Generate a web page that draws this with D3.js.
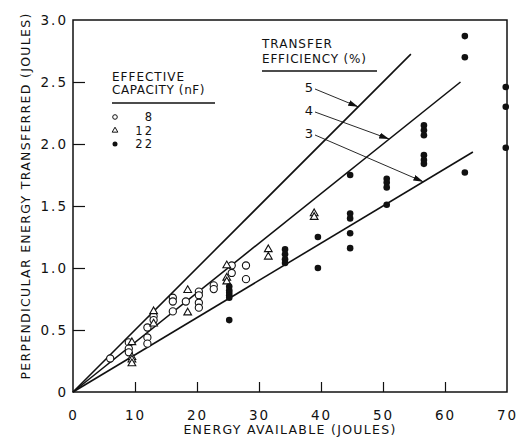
<!DOCTYPE html>
<html lang="en-US">
<head>
<meta charset="utf-8">
<style>
  body { margin: 0; background: #fff; }
  text { font-family: "DejaVu Sans", sans-serif; fill: #111; }
</style>
</head>
<body>
<div id="chart"></div>
<script src="https://cdnjs.cloudflare.com/ajax/libs/d3/7.8.5/d3.min.js"></script>
<script>
// tick values
var xTicks = [0, 10, 20, 30, 40, 50, 60, 70];
var yTicks = [0, 0.5, 1.0, 1.5, 2.0, 2.5, 3.0];

// 8 nF (open circles)
var x8 = [6, 9, 9, 9, 12, 12, 12, 13, 13, 16.1, 16.1, 16.1, 18.2, 20.3, 20.3, 20.3, 20.3, 22.7, 22.7, 25.6, 25.6, 27.9, 27.9];
var y8 = [0.27, 0.40, 0.35, 0.32, 0.52, 0.44, 0.39, 0.61, 0.58, 0.76, 0.73, 0.65, 0.73, 0.81, 0.78, 0.72, 0.68, 0.86, 0.83, 1.02, 0.96, 1.02, 0.91];

// 12 nF (open triangles)
var x12 = [9.5, 9.5, 9.5, 9.5, 13, 13, 18.5, 18.5, 24.8, 24.8, 24.8, 31.5, 31.5, 38.9, 38.9];
var y12 = [0.40, 0.28, 0.26, 0.23, 0.65, 0.55, 0.82, 0.64, 1.02, 0.92, 0.89, 1.15, 1.09, 1.44, 1.41];

// 22 nF (filled circles)
var x22 = [25.2, 25.2, 25.2, 25.2, 25.2, 25.2, 34.2, 34.2, 34.2, 34.2, 39.5, 39.5,
           44.7, 44.7, 44.7, 44.7, 44.7, 50.6, 50.6, 50.6, 50.6,
           56.6, 56.6, 56.6, 56.6, 56.6, 56.6, 63.2, 63.2, 63.2, 69.8, 69.8, 69.8];
var y22 = [0.85, 0.82, 0.80, 0.78, 0.76, 0.58, 1.15, 1.11, 1.07, 1.04, 1.25, 1.00,
           1.75, 1.44, 1.40, 1.28, 1.16, 1.72, 1.69, 1.65, 1.51,
           2.15, 2.11, 2.07, 1.91, 1.87, 1.84, 2.87, 2.70, 1.77, 2.46, 2.30, 1.97];

// transfer efficiency lines (%), where each drawn line stops, where its arrow lands
var effLabels = ["5", "4", "3"];
var effValues = [5, 4, 3];
var effEndX = [54.5, 62.5, 64.5];
var effArrowX = [46, 51, 56.5];

var capLabels = ["8", "12", "22"];

var WIDTH = 521, HEIGHT = 445;
var margin = {left: 73, top: 20, right: 14, bottom: 53};

var svg = d3.select("#chart").append("svg").attr("width", WIDTH).attr("height", HEIGHT);

var x = d3.scaleLinear().domain([0, 70]).range([margin.left, WIDTH - margin.right]);
var y = d3.scaleLinear().domain([0, 3]).range([HEIGHT - margin.bottom, margin.top]);

// frame
svg.append("rect")
  .attr("x", x(0)).attr("y", y(3))
  .attr("width", x(70) - x(0)).attr("height", y(0) - y(3))
  .attr("fill", "none").attr("stroke", "#111").attr("stroke-width", 1.5);

// axes with inward ticks
var xAxis = svg.append("g").attr("transform", "translate(0," + y(0) + ")")
  .call(d3.axisBottom(x).tickValues(xTicks).tickSizeInner(-10).tickSizeOuter(0).tickPadding(18).tickFormat(d3.format("d")));
var yAxis = svg.append("g").attr("transform", "translate(" + x(0) + ",0)")
  .call(d3.axisLeft(y).tickValues(yTicks).tickSizeInner(-12).tickSizeOuter(0).tickPadding(5)
    .tickFormat(function(d) { return d === 0 ? "0" : d3.format(".1f")(d); }));
[xAxis, yAxis].forEach(function(g) {
  g.select(".domain").remove();
  g.selectAll(".tick line").attr("stroke", "#111").attr("stroke-width", 1.2);
  g.selectAll(".tick text").attr("font-size", 13.5).attr("letter-spacing", 2)
    .style("font-family", "DejaVu Sans, sans-serif").attr("fill", "#111");
});
xAxis.selectAll(".tick").filter(function(d) { return d === 0 || d === 70; }).select("line").remove();
yAxis.selectAll(".tick").filter(function(d) { return d === 0 || d === 3; }).select("line").remove();

// axis titles
svg.append("text")
  .attr("x", (x(0) + x(70)) / 2).attr("y", 434)
  .attr("text-anchor", "middle").attr("font-size", 12.5).attr("letter-spacing", 1.3)
  .text("ENERGY AVAILABLE (JOULES)");
svg.append("text")
  .attr("transform", "translate(30," + (y(1.5) - 10) + ") rotate(-90)")
  .attr("text-anchor", "middle").attr("font-size", 12.5).attr("letter-spacing", 1.3)
  .text("PERPENDICULAR ENERGY TRANSFERRED (JOULES)");

// efficiency lines
svg.selectAll(".eff").data(effValues).join("line")
  .attr("class", "eff")
  .attr("x1", x(0)).attr("y1", y(0))
  .attr("x2", function(d, i) { return x(effEndX[i]); })
  .attr("y2", function(d, i) { return y(effEndX[i] * d / 100); })
  .attr("stroke", "#111").attr("stroke-width", 1.6);

// points
var pts8 = x8.map(function(v, i) { return [v, y8[i]]; });
var pts12 = x12.map(function(v, i) { return [v, y12[i]]; });
var pts22 = x22.map(function(v, i) { return [v, y22[i]]; });
var tri = d3.symbol().type(d3.symbolTriangle).size(26);

svg.selectAll(".p8").data(pts8).join("circle")
  .attr("cx", function(d) { return x(d[0]); }).attr("cy", function(d) { return y(d[1]); })
  .attr("r", 3.6).attr("fill", "#fff").attr("stroke", "#111").attr("stroke-width", 1.1);
svg.selectAll(".p12").data(pts12).join("path")
  .attr("d", tri)
  .attr("transform", function(d) { return "translate(" + x(d[0]) + "," + y(d[1]) + ")"; })
  .attr("fill", "#fff").attr("stroke", "#111").attr("stroke-width", 1.1);
svg.selectAll(".p22").data(pts22).join("circle")
  .attr("cx", function(d) { return x(d[0]); }).attr("cy", function(d) { return y(d[1]); })
  .attr("r", 3.3).attr("fill", "#111");

// capacity legend
var leg = svg.append("g").attr("transform", "translate(112,0)");
leg.append("text").attr("x", 0).attr("y", 81).attr("font-size", 12).attr("letter-spacing", 1).text("EFFECTIVE");
leg.append("text").attr("x", 0).attr("y", 94).attr("font-size", 12).attr("letter-spacing", 0.6).text("CAPACITY (nF)");
leg.append("line").attr("x1", 0).attr("x2", 103).attr("y1", 103).attr("y2", 103).attr("stroke", "#111").attr("stroke-width", 1.3);
var rowY = [117, 130.5, 144];
leg.append("circle").attr("cx", 3).attr("cy", rowY[0]).attr("r", 2.3).attr("fill", "none").attr("stroke", "#111");
leg.append("path").attr("d", d3.symbol().type(d3.symbolTriangle).size(14)).attr("transform", "translate(3," + rowY[1] + ")")
  .attr("fill", "none").attr("stroke", "#111");
leg.append("circle").attr("cx", 3).attr("cy", rowY[2]).attr("r", 2.5).attr("fill", "#111");
leg.selectAll(".cap").data(capLabels).join("text")
  .attr("x", 42).attr("y", function(d, i) { return rowY[i] + 4; })
  .attr("text-anchor", "end").attr("font-size", 11.5).attr("letter-spacing", 2).text(function(d) { return d; });

// efficiency heading
svg.append("text").attr("x", 262).attr("y", 48).attr("font-size", 12).attr("letter-spacing", 1).text("TRANSFER");
svg.append("text").attr("x", 262).attr("y", 63).attr("font-size", 12).attr("letter-spacing", 0.8).text("EFFICIENCY (%)");
svg.append("line").attr("x1", 262).attr("x2", 377).attr("y1", 71).attr("y2", 71).attr("stroke", "#111").attr("stroke-width", 1.3);

// labels with arrows onto the lines
svg.append("defs").append("marker")
  .attr("id", "head").attr("viewBox", "0 0 10 6").attr("refX", 10).attr("refY", 3)
  .attr("markerWidth", 10).attr("markerHeight", 6).attr("markerUnits", "userSpaceOnUse").attr("orient", "auto")
  .append("path").attr("d", "M0,0L10,3L0,6Z").attr("fill", "#111");
var labY = [92, 115, 138];
svg.selectAll(".effLab").data(effLabels).join("text")
  .attr("x", 313).attr("y", function(d, i) { return labY[i]; })
  .attr("text-anchor", "end").attr("font-size", 13).text(function(d) { return d; });
svg.selectAll(".effArrow").data(effValues).join("line")
  .attr("x1", 315).attr("y1", function(d, i) { return labY[i] - 3; })
  .attr("x2", function(d, i) { return x(effArrowX[i]); })
  .attr("y2", function(d, i) { return y(effArrowX[i] * d / 100); })
  .attr("stroke", "#111").attr("stroke-width", 0.9).attr("marker-end", "url(#head)");
</script>
</body>
</html>
